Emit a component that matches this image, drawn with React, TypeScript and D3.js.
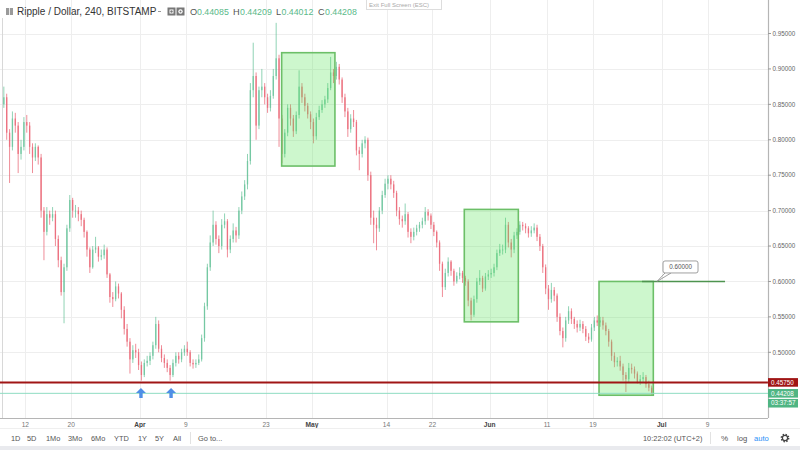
import React from "react";
import * as d3 from "d3";

// ---- data (12h candles) ----
const firstOpen = 0.85;
const candleStartUTC = Date.UTC(2018, 2, 8, 6); // centre of first candle
const candleHours = 12;

const closes = [
  0.86, 0.81, 0.79, 0.83, 0.82, 0.78, 0.79, 0.825, 0.82, 0.79,
  0.775, 0.79, 0.775, 0.70, 0.67, 0.695, 0.69, 0.695, 0.66, 0.63,
  0.585, 0.62, 0.675, 0.715, 0.70, 0.70, 0.695, 0.687, 0.67, 0.645,
  0.62, 0.645, 0.648, 0.635, 0.637, 0.645, 0.61, 0.578, 0.575, 0.593,
  0.583, 0.56, 0.533, 0.515, 0.49, 0.503, 0.50, 0.482, 0.468, 0.485,
  0.488, 0.495, 0.51, 0.54, 0.505, 0.492, 0.485, 0.478, 0.468, 0.485,
  0.495, 0.49, 0.50, 0.505, 0.50, 0.485, 0.483, 0.485, 0.49, 0.52,
  0.565, 0.62, 0.655, 0.68, 0.66, 0.65, 0.68, 0.685, 0.645, 0.66,
  0.672, 0.665, 0.70, 0.72, 0.737, 0.77, 0.87, 0.89, 0.82, 0.87,
  0.875, 0.86, 0.845, 0.862, 0.89, 0.915, 0.83, 0.78, 0.81, 0.845,
  0.83, 0.812, 0.835, 0.875, 0.86, 0.848, 0.836, 0.825, 0.805, 0.832,
  0.842, 0.85, 0.857, 0.873, 0.895, 0.89, 0.903, 0.885, 0.86, 0.84,
  0.815, 0.83, 0.825, 0.785, 0.78, 0.795, 0.80, 0.75, 0.69, 0.68,
  0.675, 0.70, 0.722, 0.738, 0.745, 0.737, 0.725, 0.70, 0.688, 0.685,
  0.695, 0.67, 0.663, 0.67, 0.675, 0.68, 0.685, 0.698, 0.693, 0.68,
  0.67, 0.655, 0.625, 0.592, 0.612, 0.628, 0.615, 0.60, 0.608, 0.612,
  0.605, 0.60, 0.573, 0.553, 0.575, 0.60, 0.605, 0.59, 0.607, 0.61,
  0.612, 0.62, 0.64, 0.645, 0.645, 0.68, 0.655, 0.645, 0.665, 0.67,
  0.68, 0.678, 0.675, 0.668, 0.672, 0.676, 0.663, 0.65, 0.62, 0.59,
  0.575, 0.588, 0.58, 0.55, 0.53, 0.52, 0.545, 0.558, 0.547, 0.54,
  0.535, 0.54, 0.533, 0.522, 0.518, 0.535, 0.545, 0.542, 0.545, 0.538,
  0.53, 0.515, 0.495, 0.486, 0.488, 0.48, 0.468, 0.462, 0.478, 0.476,
  0.47, 0.458, 0.462, 0.465, 0.455, 0.45, 0.4421,
];

const highs = [
  0.875, 0.865, 0.815, 0.84, 0.838, 0.825, 0.80, 0.832, 0.835, 0.825,
  0.795, 0.795, 0.792, 0.78, 0.705, 0.705, 0.70, 0.705, 0.70, 0.665,
  0.635, 0.625, 0.68, 0.722, 0.718, 0.708, 0.705, 0.70, 0.69, 0.672,
  0.648, 0.65, 0.663, 0.65, 0.645, 0.652, 0.648, 0.612, 0.585, 0.60,
  0.597, 0.585, 0.565, 0.54, 0.52, 0.51, 0.512, 0.505, 0.487, 0.49,
  0.495, 0.50, 0.515, 0.55, 0.545, 0.51, 0.497, 0.49, 0.482, 0.49,
  0.50, 0.50, 0.505, 0.51, 0.515, 0.503, 0.49, 0.49, 0.497, 0.525,
  0.57, 0.625, 0.665, 0.70, 0.685, 0.665, 0.688, 0.696, 0.688, 0.665,
  0.682, 0.677, 0.705, 0.727, 0.743, 0.78, 0.88, 0.937, 0.895, 0.875,
  0.90, 0.88, 0.865, 0.87, 0.90, 0.965, 0.92, 0.835, 0.815, 0.85,
  0.85, 0.835, 0.84, 0.898, 0.88, 0.865, 0.852, 0.84, 0.83, 0.838,
  0.848, 0.856, 0.862, 0.88, 0.917, 0.90, 0.91, 0.907, 0.888, 0.865,
  0.845, 0.836, 0.842, 0.828, 0.79, 0.80, 0.805, 0.803, 0.755, 0.70,
  0.69, 0.705, 0.728, 0.745, 0.75, 0.75, 0.742, 0.728, 0.705, 0.693,
  0.71, 0.698, 0.675, 0.676, 0.68, 0.684, 0.69, 0.705, 0.702, 0.696,
  0.684, 0.672, 0.658, 0.628, 0.618, 0.634, 0.63, 0.618, 0.613, 0.62,
  0.615, 0.608, 0.603, 0.577, 0.58, 0.605, 0.616, 0.608, 0.612, 0.616,
  0.618, 0.625, 0.645, 0.653, 0.652, 0.69, 0.684, 0.66, 0.67, 0.675,
  0.685, 0.684, 0.682, 0.678, 0.678, 0.682, 0.68, 0.667, 0.653, 0.624,
  0.595, 0.598, 0.592, 0.583, 0.555, 0.535, 0.55, 0.565, 0.562, 0.55,
  0.545, 0.546, 0.544, 0.537, 0.527, 0.54, 0.55, 0.552, 0.55, 0.55,
  0.542, 0.533, 0.518, 0.50, 0.493, 0.495, 0.484, 0.472, 0.485, 0.484,
  0.48, 0.473, 0.468, 0.472, 0.468, 0.46, 0.453,
];

const lows = [
  0.845, 0.80, 0.739, 0.785, 0.81, 0.753, 0.772, 0.785, 0.81, 0.78,
  0.753, 0.77, 0.765, 0.69, 0.63, 0.665, 0.68, 0.685, 0.65, 0.62,
  0.58, 0.541, 0.615, 0.67, 0.69, 0.69, 0.685, 0.678, 0.662, 0.635,
  0.612, 0.618, 0.64, 0.628, 0.63, 0.632, 0.605, 0.57, 0.564, 0.572,
  0.576, 0.548, 0.525, 0.508, 0.47, 0.485, 0.492, 0.475, 0.46, 0.465,
  0.48, 0.482, 0.49, 0.505, 0.50, 0.486, 0.478, 0.472, 0.46, 0.465,
  0.48, 0.484, 0.486, 0.495, 0.495, 0.48, 0.477, 0.478, 0.482, 0.487,
  0.515, 0.56, 0.615, 0.65, 0.652, 0.64, 0.645, 0.675, 0.634, 0.64,
  0.655, 0.655, 0.66, 0.695, 0.715, 0.73, 0.765, 0.86, 0.80, 0.815,
  0.86, 0.85, 0.838, 0.84, 0.858, 0.885, 0.79, 0.767, 0.775, 0.805,
  0.82, 0.804, 0.808, 0.83, 0.852, 0.84, 0.83, 0.815, 0.795, 0.80,
  0.828, 0.838, 0.845, 0.852, 0.87, 0.88, 0.885, 0.878, 0.852, 0.832,
  0.804, 0.81, 0.818, 0.778, 0.757, 0.775, 0.788, 0.742, 0.68, 0.654,
  0.644, 0.67, 0.695, 0.718, 0.73, 0.73, 0.718, 0.692, 0.68, 0.676,
  0.68, 0.662, 0.654, 0.658, 0.665, 0.67, 0.675, 0.68, 0.686, 0.674,
  0.664, 0.648, 0.615, 0.578, 0.588, 0.607, 0.608, 0.594, 0.597, 0.603,
  0.598, 0.594, 0.565, 0.545, 0.55, 0.57, 0.595, 0.585, 0.587, 0.602,
  0.605, 0.607, 0.616, 0.636, 0.638, 0.64, 0.648, 0.634, 0.64, 0.66,
  0.666, 0.672, 0.668, 0.662, 0.663, 0.668, 0.657, 0.643, 0.612, 0.582,
  0.56, 0.57, 0.572, 0.543, 0.524, 0.507, 0.515, 0.54, 0.54, 0.533,
  0.528, 0.53, 0.527, 0.516, 0.513, 0.515, 0.53, 0.537, 0.536, 0.532,
  0.524, 0.508, 0.488, 0.479, 0.48, 0.474, 0.46, 0.444, 0.458, 0.47,
  0.463, 0.456, 0.454, 0.458, 0.45, 0.445, 0.44,
];

const priceTicks = [0.5, 0.55, 0.6, 0.65, 0.7, 0.75, 0.8, 0.85, 0.9, 0.95];
const dateTicks = [
  "2018-03-12", "2018-03-20", "2018-04-01", "2018-04-09", "2018-04-23", "2018-05-01",
  "2018-05-14", "2018-05-22", "2018-06-01", "2018-06-11", "2018-06-19", "2018-07-01", "2018-07-09",
];
const dateTickLabels = ["12", "20", "Apr", "9", "23", "May", "14", "22", "Jun", "11", "19", "Jul", "9"];
const monthLabels = ["Apr", "May", "Jun", "Jul"];

const zoneStarts = ["2018-04-25T17:00:00Z", "2018-05-27T13:30:00Z", "2018-06-20T01:30:00Z"];
const zoneEnds = ["2018-05-05T00:00:00Z", "2018-06-05T23:45:00Z", "2018-06-29T12:45:00Z"];
const zoneTops = [0.9229, 0.7017, 0.6];
const zoneBottoms = [0.7629, 0.543, 0.4394];

const supportLevel = 0.4575;
const lastPrice = 0.44208;
const targetLevel = 0.6;
const targetStart = "2018-06-27T13:30:00Z";
const targetEnd = "2018-07-12T01:00:00Z";
const arrowDates = ["2018-04-01T04:00:00Z", "2018-04-06T10:00:00Z"];

const ohlcLetters = ["O", "H", "L", "C"];
const ohlcValues = ["0.44085", "0.44209", "0.44012", "0.44208"];

// ---- layout ----
const W = 800;
const H = 450;
const plotRight = 768;
const plotBottom = 418;
const FONT = "'Liberation Sans', Arial, sans-serif";
const UP = "#5dbf93";
const DOWN = "#e9596a";

export default function App() {
  const x = d3
    .scaleUtc()
    .domain([new Date(Date.UTC(2018, 3, 1)), new Date(Date.UTC(2018, 4, 1))])
    .range([140, 312]);
  const y = d3.scaleLinear().domain([0.5, 0.95]).range([352.3, 33.5]);

  const candles = closes.map((c, i) => {
    const o = i === 0 ? firstOpen : closes[i - 1];
    const t = new Date(candleStartUTC + i * candleHours * 3600 * 1000);
    return { t, o, c, h: Math.max(highs[i], o, c), l: Math.min(lows[i], o, c) };
  });
  const bw = 1.3;

  const toolbarLeft: [string, number][] = [
    ["1D", 11], ["5D", 27], ["1Mo", 46], ["3Mo", 68], ["6Mo", 91],
    ["YTD", 114], ["1Y", 138], ["5Y", 155], ["All", 173],
  ];

  const tY = y(targetLevel);
  const tx0 = x(new Date(targetStart));
  const tx1 = x(new Date(targetEnd));

  return (
    <svg
      width={W}
      height={H}
      style={{ position: "absolute", left: 0, top: 0, background: "#fff", fontFamily: FONT }}
    >
      <rect x={0} y={0} width={W} height={H} fill="#fff" />
      {/* grid */}
      <g>
        {priceTicks.map((p) => (
          <line key={"h" + p} x1={0} x2={plotRight} y1={Math.round(y(p)) + 0.5} y2={Math.round(y(p)) + 0.5} stroke="#eeeeee" />
        ))}
        {dateTicks.map((d) => {
          const xx = Math.round(x(new Date(d + "T00:00:00Z"))) + 0.5;
          return <line key={"v" + d} x1={xx} x2={xx} y1={0} y2={plotBottom} stroke="#eeeeee" />;
        })}
      </g>
      <line x1={2.5} x2={2.5} y1={18} y2={plotBottom} stroke="#d8d8d8" />

      {/* candles */}
      <g opacity={0.85}>
        {candles.map((d, i) => {
          const cx = x(d.t);
          const up = d.c >= d.o;
          const col = up ? UP : DOWN;
          const top = y(Math.max(d.o, d.c));
          const bot = y(Math.min(d.o, d.c));
          return (
            <g key={i}>
              <line x1={cx} x2={cx} y1={y(d.h)} y2={y(d.l)} stroke={col} strokeWidth={0.8} />
              <rect x={cx - bw / 2} y={top} width={bw} height={Math.max(0.8, bot - top)} fill={col} />
            </g>
          );
        })}
      </g>

      {/* zones */}
      {zoneStarts.map((s, i) => {
        const x0 = x(new Date(s));
        const x1 = x(new Date(zoneEnds[i]));
        const y0 = y(zoneTops[i]);
        const y1 = y(zoneBottoms[i]);
        return (
          <rect
            key={"z" + i}
            x={x0}
            y={y0}
            width={x1 - x0}
            height={y1 - y0}
            fill="rgba(90,230,90,0.3)"
            stroke="#6cbf68"
            strokeWidth={1.6}
          />
        );
      })}

      {/* support line */}
      <line x1={0} x2={plotRight} y1={y(supportLevel)} y2={y(supportLevel)} stroke="#a01515" strokeWidth={2} />
      {/* last price line */}
      <line x1={0} x2={plotRight} y1={y(lastPrice)} y2={y(lastPrice)} stroke="#8fdcc2" strokeWidth={1} />

      {/* target line + callout */}
      <line x1={tx0} x2={tx1} y1={tY} y2={tY} stroke="#4e944f" strokeWidth={1.5} />
      <path d={`M${tx0 + 15},${tY} L${tx0 + 23},${tY - 8.5} M${tx0 + 15},${tY} L${tx0 + 29},${tY - 8.5}`} stroke="#888" strokeWidth={0.8} fill="none" />
      <rect x={tx0 + 21} y={tY - 20.5} width={35} height={12} rx={2} fill="#fff" stroke="#888" strokeWidth={0.8} />
      <text x={tx0 + 38.5} y={tY - 12.3} fontSize={6.3} fill="#555" textAnchor="middle">
        {targetLevel.toFixed(5)}
      </text>

      {/* arrows */}
      {arrowDates.map((d) => {
        const ax = x(new Date(d));
        const ay = 388;
        return (
          <path
            key={d}
            d={`M${ax},${ay} L${ax + 5},${ay + 5} L${ax + 1.7},${ay + 5} L${ax + 1.7},${ay + 10} L${ax - 1.7},${ay + 10} L${ax - 1.7},${ay + 5} L${ax - 5},${ay + 5} Z`}
            fill="#4f8fe6"
          />
        );
      })}

      {/* axes */}
      <line x1={plotRight + 0.5} x2={plotRight + 0.5} y1={0} y2={plotBottom} stroke="#b5b5b5" strokeWidth={1.2} />
      <line x1={0} x2={plotRight} y1={plotBottom + 0.5} y2={plotBottom + 0.5} stroke="#b5b5b5" />
      {priceTicks.map((p) => (
        <g key={"pt" + p}>
          <line x1={plotRight} x2={plotRight + 3} y1={y(p)} y2={y(p)} stroke="#999" />
          <text x={plotRight + 4.5} y={y(p) + 2.2} fontSize={6.3} fill="#666">
            {p.toFixed(5)}
          </text>
        </g>
      ))}
      {/* price labels */}
      <rect x={plotRight} y={y(supportLevel) - 4.3} width={30} height={8.6} fill="#a01515" />
      <text x={plotRight + 3} y={y(supportLevel) + 2.2} fontSize={6.3} fill="#fff">
        {supportLevel.toFixed(5)}
      </text>
      <rect x={plotRight} y={y(lastPrice) - 4.3} width={30} height={8.6} fill="#4fb583" />
      <text x={plotRight + 3} y={y(lastPrice) + 2.2} fontSize={6.3} fill="#fff">
        {lastPrice.toFixed(5)}
      </text>
      <rect x={plotRight} y={y(lastPrice) + 5.6} width={30} height={8.6} fill="#4fb583" />
      <text x={plotRight + 3} y={y(lastPrice) + 12.1} fontSize={6.3} fill="#fff">
        03:37:57
      </text>

      {/* date labels */}
      {dateTicks.map((d, i) => {
        const isMonth = monthLabels.includes(dateTickLabels[i]);
        return (
          <text
            key={"dl" + d}
            x={x(new Date(d + "T00:00:00Z"))}
            y={426.5}
            fontSize={6.6}
            textAnchor="middle"
            fill={isMonth ? "#444" : "#777"}
            fontWeight={isMonth ? 700 : 400}
          >
            {dateTickLabels[i]}
          </text>
        );
      })}

      {/* header */}
      <rect x={6} y={8} width={7} height={7} fill="#9a9a9a" />
      <line x1={9.5} x2={9.5} y1={8} y2={15} stroke="#fff" strokeWidth={0.8} />
      <text x={17} y={15} fontSize={10} fill="#333">
        Ripple / Dollar, 240, BITSTAMP
      </text>
      <line x1={158} x2={161} y1={11.5} y2={11.5} stroke="#999" strokeWidth={1} />
      <rect x={167.5} y={7.5} width={8} height={8} fill="#777" />
      <rect x={169.5} y={9.5} width={4} height={4} fill="#fff" />
      <circle cx={171.5} cy={11.5} r={1.2} fill="#777" />
      <rect x={176.5} y={7.5} width={8} height={8} fill="#777" />
      <circle cx={180.5} cy={11.5} r={2.2} fill="#fff" />
      <circle cx={180.5} cy={11.5} r={1} fill="#777" />
      {ohlcLetters.map((l, i) => {
        const xs = [190, 233, 276, 318][i];
        return (
          <g key={l}>
            <text x={xs} y={15} fontSize={9.2} fill="#555">
              {l}
            </text>
            <text x={xs + (l === "L" ? 5.5 : 7)} y={15} fontSize={8.8} fill="#5ab98a">
              {ohlcValues[i]}
            </text>
          </g>
        );
      })}

      {/* exit full screen tooltip */}
      <rect x={366.5} y={-1} width={75} height={10.5} fill="#fff" stroke="#ddd" />
      <text x={369} y={6.5} fontSize={6} fill="#aaa">
        Exit Full Screen (ESC)
      </text>

      {/* bottom toolbar */}
      <line x1={0} x2={W} y1={428.5} y2={428.5} stroke="#efefef" />
      {toolbarLeft.map(([t, xx]) => (
        <text key={t} x={xx} y={441} fontSize={7.4} fill="#555">
          {t}
        </text>
      ))}
      <line x1={190.5} x2={190.5} y1={432} y2={444} stroke="#e2e2e2" />
      <text x={198} y={441} fontSize={7.4} fill="#555">
        Go to...
      </text>
      <text x={643} y={441} fontSize={7.4} fill="#555">
        10:22:02 (UTC+2)
      </text>
      <line x1={710.5} x2={710.5} y1={432} y2={444} stroke="#e2e2e2" />
      <text x={721} y={441} fontSize={8} fill="#555">
        %
      </text>
      <text x={737} y={441} fontSize={7.6} fill="#555">
        log
      </text>
      <text x={754} y={441} fontSize={7.6} fill="#2a8ff7">
        auto
      </text>
      <circle cx={785} cy={438} r={3.3} fill="none" stroke="#444" strokeWidth={2.2} strokeDasharray="1.3 1.3" />
      <circle cx={785} cy={438} r={2.6} fill="none" stroke="#444" strokeWidth={1.2} />
      <rect x={0} y={446} width={W} height={4} fill="#e9eaee" />
    </svg>
  );
}
